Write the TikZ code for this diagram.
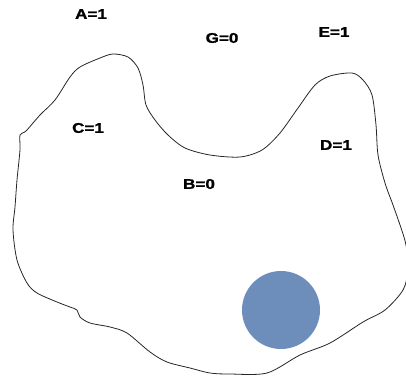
\documentclass[tikz,border=0pt]{standalone}
\usepackage{fontspec}
\setmainfont{Liberation Sans}
\newfontfamily\lblfont[FakeStretch=1.22, BoldFeatures={FakeBold=1.3}]{Liberation Sans}
\definecolor{blobblue}{RGB}{109,142,187}
\begin{document}
\begin{tikzpicture}[x=1pt,y=-1pt,
  lbl/.style={font=\lblfont\bfseries\fontsize{14}{15}\selectfont, inner sep=0pt, text=black},
  outline/.style={draw=black!85, line width=0.8pt}]
\useasboundingbox (0,0) rectangle (406,378);
\begin{scope}
\clip (0,0) rectangle (406,378);
\draw[outline] plot[smooth cycle, tension=0.5] coordinates {
(20,135) (26,131) (40,115) (55,100) (70,77) (80,67) (100,58) (113,54) (128,57) (138,68)
(143,85) (146,105) (155,120) (168,135) (185,148) (210,155) (240,157) (262,150) (280,133)
(298,108) (315,85) (330,76) (352,73) (363,80) (372,95) (376,125) (378,155) (385,183)
(393,205) (400,225) (406,245) (408,270) (403,290) (385,310) (363,322) (330,343) (300,355)
(267,373) (230,374) (210,373) (190,368) (167,362) (150,352) (127,333) (110,327) (90,323)
(80,317) (77,310) (70,307) (57,302) (37,293) (27,283) (17,260) (13,230) (15,207) (17,180) (20,150)};
\end{scope}
\node[circle, fill=blobblue, minimum size=78pt, inner sep=0pt] (dot) at (281,310) {};
\node[lbl] (A) at (91,14) {A=1};
\node[lbl] (G) at (222,38) {G=0};
\node[lbl] (E) at (334,32) {E=1};
\node[lbl] (C) at (88,128) {C=1};
\node[lbl] (D) at (336,145) {D=1};
\node[lbl] (B) at (199,184) {B=0};
\end{tikzpicture}
\end{document}
